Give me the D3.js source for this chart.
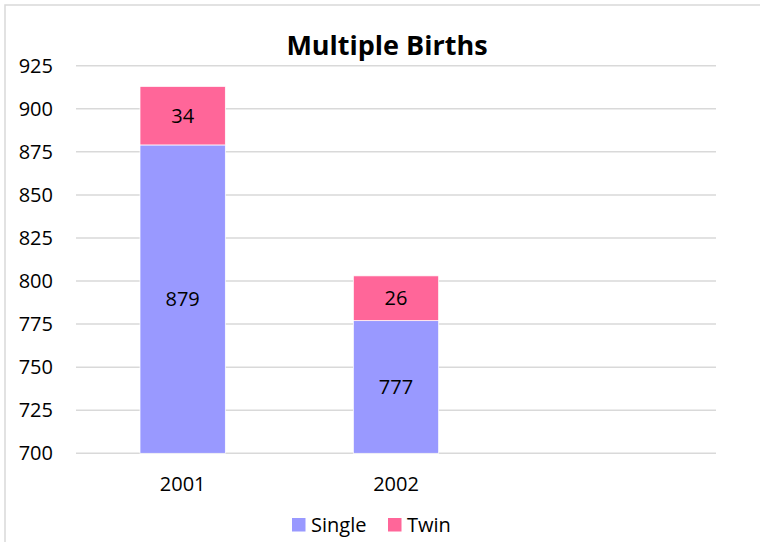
<!DOCTYPE html>
<meta charset="utf-8">
<script src="https://cdnjs.cloudflare.com/ajax/libs/d3/7.3.0/d3.min.js"></script>
<style>
  body { margin: 0; background: #fff; }
  text { font-family: "Open Sans", sans-serif; fill: #000; }
</style>
<div id="my_dataviz"></div>
<script>
    // data
    const years = ["2001", "2002", ""]
    const single = [879, 777]
    const twin = [34, 26]
    const yTicks = [700, 725, 750, 775, 800, 825, 850, 875, 900, 925]

    const W = 760, H = 542
    var margin = { top: 65.7, right: 44, bottom: 88.7, left: 76 },
        width = W - margin.left - margin.right,
        height = H - margin.top - margin.bottom;

    var svg = d3.select("#my_dataviz")
        .append("svg")
        .attr("width", W)
        .attr("height", H)

    // chart border
    svg.append("rect")
        .attr("x", 5).attr("y", 5)
        .attr("width", W + 10).attr("height", H + 10)
        .attr("fill", "none")
        .attr("stroke", "#d9d9d9")
        .attr("stroke-width", 1.5)

    var g = svg.append("g")
        .attr("transform", "translate(" + margin.left + "," + margin.top + ")");

    var x = d3.scaleBand()
        .domain(d3.range(years.length))
        .range([0, width])
        .paddingInner(0.6)
        .paddingOuter(0.3);

    var y = d3.scaleLinear()
        .domain([700, 925])
        .range([height, 0]);

    // gridlines
    g.append("g")
        .selectAll("line")
        .data(yTicks)
        .join("line")
        .attr("x1", 0).attr("x2", width)
        .attr("y1", d => y(d)).attr("y2", d => y(d))
        .attr("stroke", "#d9d9d9")
        .attr("stroke-width", 1.5)

    // y axis labels
    var yAxis = g.append("g")
        .call(d3.axisLeft(y).tickValues(yTicks).tickSize(0).tickPadding(23))
    yAxis.select(".domain").remove()
    yAxis.selectAll("text")
        .style("font-family", "Open Sans, sans-serif")
        .style("font-size", "20px")
        .attr("fill", "#000")

    // x axis labels
    var xAxis = g.append("g")
        .attr("transform", "translate(0," + height + ")")
        .call(d3.axisBottom(x).tickFormat(i => years[i]).tickSize(0).tickPadding(24))
    xAxis.select(".domain").remove()
    xAxis.selectAll("text")
        .style("font-family", "Open Sans, sans-serif")
        .style("font-size", "20px")
        .attr("fill", "#000")

    var bars = d3.range(single.length).map(i => ({ i: i, s: single[i], t: twin[i] }))

    // single segment
    g.selectAll(".single")
        .data(bars)
        .join("rect")
        .attr("class", "single")
        .attr("x", d => x(d.i))
        .attr("width", x.bandwidth())
        .attr("y", d => y(d.s))
        .attr("height", d => y(700) - y(d.s))
        .attr("fill", "#9999ff")
        .attr("stroke", "#fff")
        .attr("stroke-width", 0.75)

    // twin segment
    g.selectAll(".twin")
        .data(bars)
        .join("rect")
        .attr("class", "twin")
        .attr("x", d => x(d.i))
        .attr("width", x.bandwidth())
        .attr("y", d => y(d.s + d.t))
        .attr("height", d => y(d.s) - y(d.s + d.t))
        .attr("fill", "#ff6699")
        .attr("stroke", "#fff")
        .attr("stroke-width", 0.75)

    // value labels
    g.selectAll(".lblS")
        .data(bars)
        .join("text")
        .attr("x", d => x(d.i) + x.bandwidth() / 2)
        .attr("y", d => (y(d.s) + y(700)) / 2)
        .attr("dy", "0.35em")
        .attr("text-anchor", "middle")
        .style("font-size", "20px")
        .text(d => d.s)

    g.selectAll(".lblT")
        .data(bars)
        .join("text")
        .attr("x", d => x(d.i) + x.bandwidth() / 2)
        .attr("y", d => (y(d.s) + y(d.s + d.t)) / 2)
        .attr("dy", "0.35em")
        .attr("text-anchor", "middle")
        .style("font-size", "20px")
        .text(d => d.t)

    // title
    svg.append("text")
        .attr("x", 387)
        .attr("y", 55)
        .attr("text-anchor", "middle")
        .style("font-size", "27px")
        .style("font-weight", "bold")
        .text("Multiple Births")

    // legend
    var legend = [{ name: "Single", color: "#9999ff", x: 292 }, { name: "Twin", color: "#ff6699", x: 388 }]
    var lg = svg.append("g").selectAll("g").data(legend).join("g")
        .attr("transform", d => "translate(" + d.x + ",518)")
    lg.append("rect")
        .attr("width", 13.5).attr("height", 13.5)
        .attr("fill", d => d.color)
    lg.append("text")
        .attr("x", 19).attr("y", 14)
        .style("font-size", "20px")
        .text(d => d.name)
</script>
